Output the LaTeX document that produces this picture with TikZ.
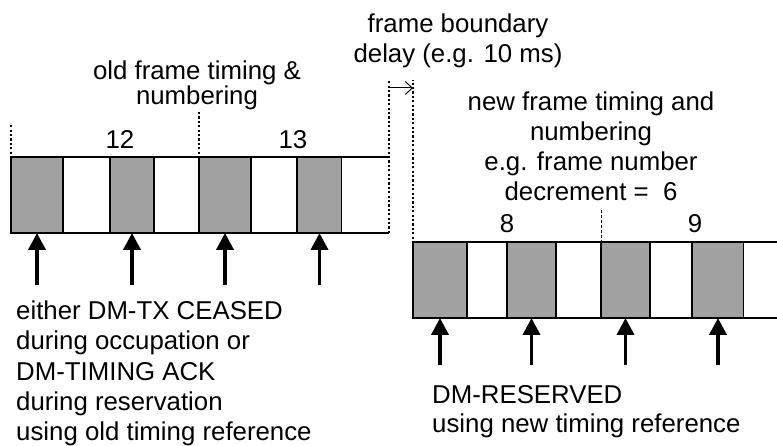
\documentclass[tikz,border=0pt]{standalone}
\usepackage{fontspec}
\setmainfont{Liberation Sans}
\usetikzlibrary{arrows.meta}
\definecolor{slotgris}{gray}{0.63}

\begin{document}
\begin{tikzpicture}[x=1pt, y=-1pt, font=\fontsize{25.8}{30}\selectfont,
  slot/.style={draw, line width=1.5pt, minimum height=76pt, inner sep=0pt, outer sep=0pt},
  hueco/.style={slot, draw=none},
  marco/.style={line width=1.5pt},
  limite/.style={line width=1.3pt, dash pattern=on 2.2pt off 2.2pt},
  fl/.style={-{Triangle[width=17pt,length=17pt]}, line width=3.8pt},
  retardo/.style={-{Straight Barb[length=7pt,width=13pt]}, line width=1pt},
  txt/.style={inner sep=0pt, anchor=base, align=center}]
  \useasboundingbox (0,0) rectangle (777,446);
  % old frames 12 and 13
  \foreach \l/\r/\c [count=\i] in {11/63/slotgris, 63/110/white, 110/154/slotgris,
      154/199/white, 199/251/slotgris, 251/297/white, 297/342/slotgris}
    \node[slot, fill=\c, minimum width={(\r-\l)*1pt}, anchor=west] (o\i) at (\l,195) {};
  \node[hueco, fill=white, minimum width=47pt, anchor=west] (o8) at (342,195) {};
  \draw[marco] (o8.north west) -- (o8.north east);
  \draw[marco] (o8.south west) -- (o8.south east);
  % new frames 8 and 9
  \foreach \l/\r/\c [count=\i] in {413/467/slotgris, 467/507/white, 507/556/slotgris,
      556/601/white, 601/650/slotgris, 650/692/white, 692/744/slotgris}
    \node[slot, fill=\c, minimum width={(\r-\l)*1pt}, anchor=west] (n\i) at (\l,280) {};
  \node[hueco, fill=white, minimum width=33pt, anchor=west] (n8) at (744,280) {};
  \draw[marco] (n8.north west) -- (n8.north east);
  \draw[marco] (n8.south west) -- (n8.south east);
  % frame boundaries
  \draw[limite] (o1.south west) -- ++(0,-110);
  \draw[limite] (o5.south west) -- ++(0,-121);
  \draw[limite] (o8.south east) -- ++(0,-153) coordinate (b1);
  \draw[limite] (n1.south west) -- ++(0,-238) coordinate (b2);
  \draw[limite, line width=0.9pt, dash pattern=on 3pt off 2pt] (n5.south west) -- ++(0,-110);
  \draw[retardo] ([yshift=-8pt]b1) -- ([yshift=-8pt]b2);
  % messages
  \foreach \i in {1,3,5,7} {
    \draw[fl] (o\i.south) ++(0,52) -- (o\i.south);
    \draw[fl] (n\i.south) ++(0,47) -- (n\i.south);
  }
  % labels (base = last line)
  \node[txt, font=\fontsize{25.8}{25}\selectfont] (viejo) at (197,105) {old frame timing \&\\numbering};
  \node[txt] (e12) at (120,149) {12};
  \node[txt] (e13) at (293,149) {13};
  \node[txt] (demora) at (458,63) {frame boundary\\delay (e.g. 10 ms)};
  \node[txt] (nuevo) at (591,201) {new frame timing and\\numbering\\e.g. frame number\\decrement =\ \ 6};
  \node[txt] (e8) at (507,233) {8};
  \node[txt] (e9) at (695,233) {9};
  \node[txt, align=left, anchor=base west, font=\fontsize{25.8}{30.5}\selectfont] (notaV) at (16,441)
    {either DM-TX CEASED\\during occupation or\\DM-TIMING ACK\\during reservation\\using old timing reference};
  \node[txt, align=left, anchor=base west, font=\fontsize{25.8}{29}\selectfont] (notaN) at (432,432)
    {DM-RESERVED\\using new timing reference};
\end{tikzpicture}
\end{document}
